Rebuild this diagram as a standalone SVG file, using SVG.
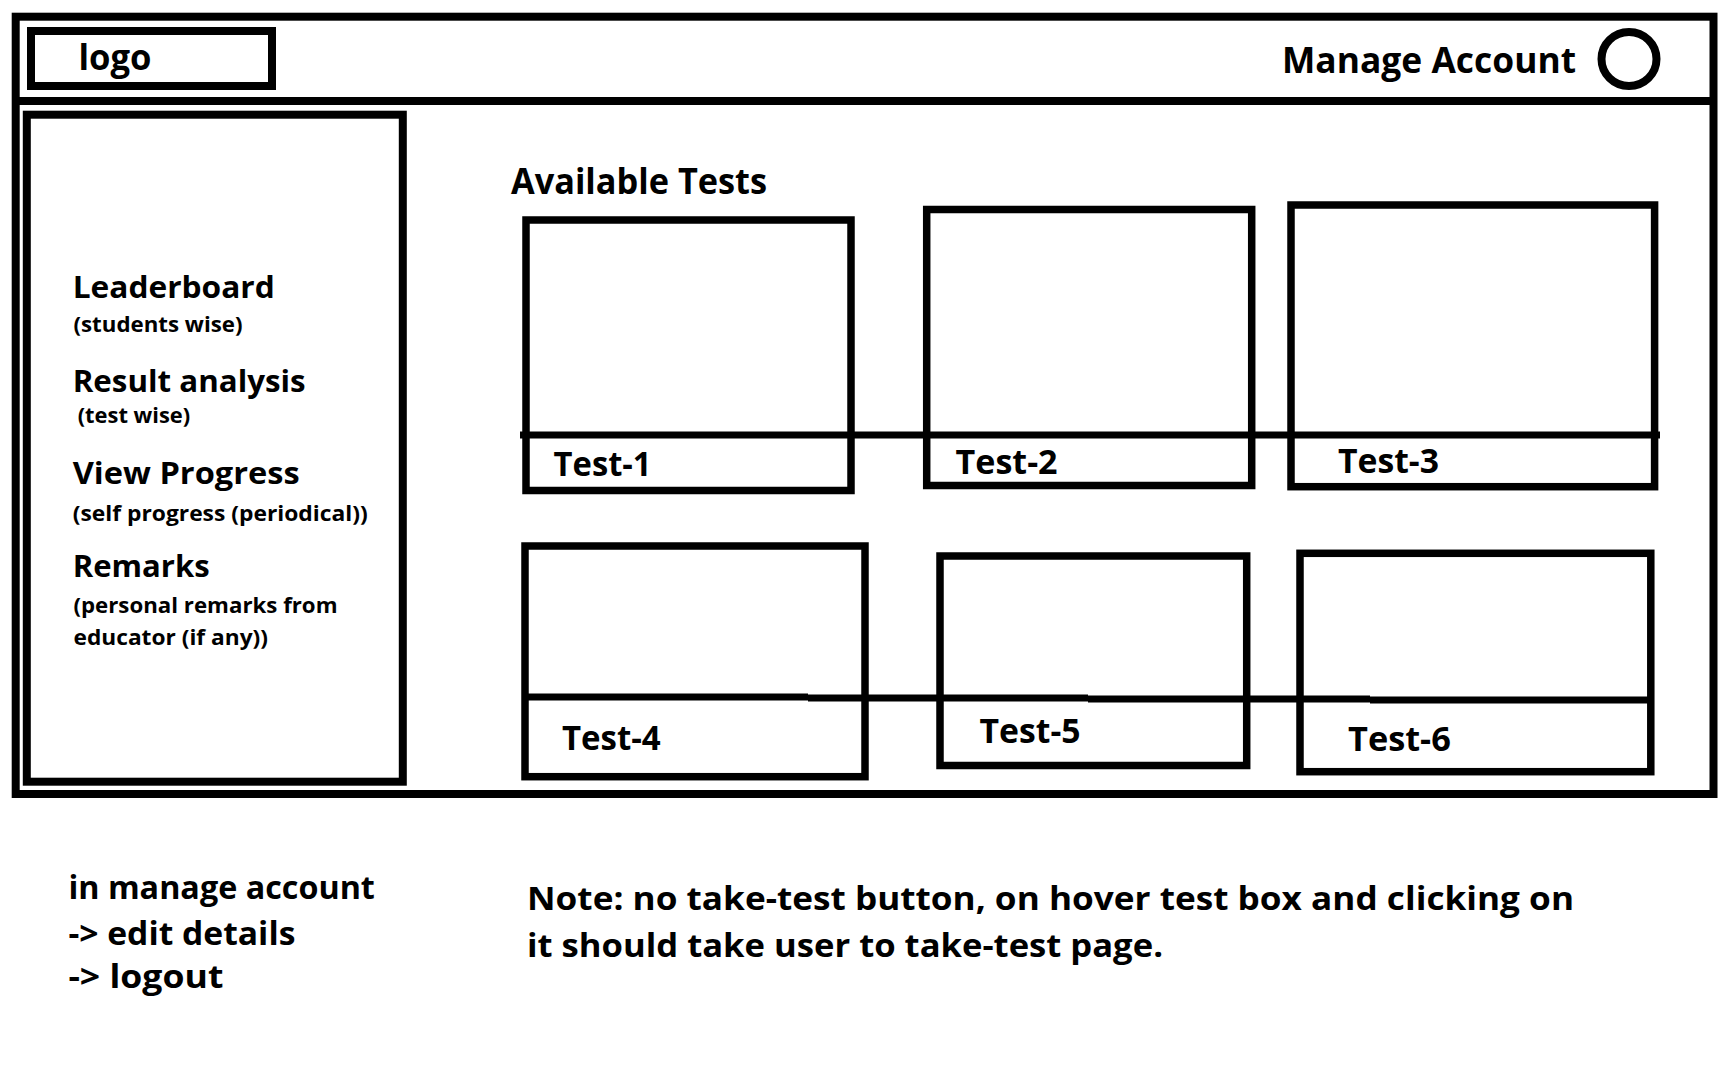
<svg xmlns="http://www.w3.org/2000/svg" width="1728" height="1080" viewBox="0 0 1728 1080">
  <style>
    .frame { fill: none; stroke: #000; stroke-width: 8; }
    .box { fill: none; stroke: #000; stroke-width: 7.5; }
    .rule { stroke: #000; stroke-width: 7; fill: none; }
    text { font-family: "Open Sans", "Noto Sans", "Liberation Sans", sans-serif; font-weight: 700; fill: #000; }
    .h1 { font-size: 36px; }
    .menu { font-size: 31px; }
    .sub { font-size: 21px; }
    .tlabel { font-size: 34px; }
    .note { font-size: 32px; }
  </style>

  <rect x="0" y="0" width="1728" height="1080" fill="#fff"/>

  <!-- page frame and header bar -->
  <g id="page">
    <rect class="frame" x="15.7" y="16.7" width="1697.8" height="777.3"/>
    <line class="frame" x1="15.7" y1="101" x2="1713.5" y2="101"/>
  </g>

  <g id="logo">
    <rect class="frame" x="31" y="31" width="241" height="55"/>
    <text class="h1" x="78.5" y="70" textLength="73" lengthAdjust="spacingAndGlyphs">logo</text>
  </g>

  <g id="manage-account">
    <text class="h1" x="1282" y="72.7" textLength="294" lengthAdjust="spacingAndGlyphs">Manage Account</text>
    <ellipse cx="1629" cy="59" rx="27.5" ry="27" fill="none" stroke="#000" stroke-width="8"/>
  </g>

  <!-- sidebar menu -->
  <g id="sidebar">
    <rect class="frame" x="26.8" y="114.7" width="376" height="667"/>
    <text class="menu" x="72.7" y="298" textLength="202" lengthAdjust="spacingAndGlyphs">Leaderboard</text>
    <text class="sub" x="73.5" y="332" textLength="169" lengthAdjust="spacingAndGlyphs">(students wise)</text>
    <text class="menu" x="72.7" y="391.5" textLength="233" lengthAdjust="spacingAndGlyphs">Result analysis</text>
    <text class="sub" x="77.7" y="423" textLength="112.5" lengthAdjust="spacingAndGlyphs">(test wise)</text>
    <text class="menu" x="72.7" y="484" textLength="227" lengthAdjust="spacingAndGlyphs">View Progress</text>
    <text class="sub" x="72.7" y="521" textLength="295" lengthAdjust="spacingAndGlyphs">(self progress (periodical))</text>
    <text class="menu" x="72.7" y="576.5" textLength="137" lengthAdjust="spacingAndGlyphs">Remarks</text>
    <text class="sub" x="73.5" y="613" textLength="264" lengthAdjust="spacingAndGlyphs">(personal remarks from</text>
    <text class="sub" x="73.5" y="645" textLength="194.5" lengthAdjust="spacingAndGlyphs">educator (if any))</text>
  </g>

  <g id="available-tests">
    <text class="h1" x="511" y="194" textLength="256" lengthAdjust="spacingAndGlyphs">Available Tests</text>
  </g>

  <!-- test cards -->
  <g id="test-1">
    <rect class="box" x="526" y="220" width="325" height="270.5"/>
    <text class="tlabel" x="553.6" y="476" textLength="98" lengthAdjust="spacingAndGlyphs">Test-1</text>
  </g>
  <g id="test-2">
    <rect class="box" x="926.7" y="209.5" width="325" height="276"/>
    <text class="tlabel" x="955.6" y="474.3" textLength="102" lengthAdjust="spacingAndGlyphs">Test-2</text>
  </g>
  <g id="test-3">
    <rect class="box" x="1291" y="205" width="363.6" height="281.7"/>
    <text class="tlabel" x="1338" y="473.3" textLength="101" lengthAdjust="spacingAndGlyphs">Test-3</text>
  </g>
  <g id="test-4">
    <rect class="box" x="525" y="546" width="340" height="230.7"/>
    <text class="tlabel" x="562" y="750" textLength="98.7" lengthAdjust="spacingAndGlyphs">Test-4</text>
  </g>
  <g id="test-5">
    <rect class="box" x="940" y="556" width="306.7" height="209.5"/>
    <text class="tlabel" x="979.6" y="742.7" textLength="101" lengthAdjust="spacingAndGlyphs">Test-5</text>
  </g>
  <g id="test-6">
    <rect class="box" x="1300" y="553.3" width="350.8" height="218.4"/>
    <text class="tlabel" x="1348" y="750.7" textLength="102.8" lengthAdjust="spacingAndGlyphs">Test-6</text>
  </g>

  <!-- label separators running across each card row -->
  <g id="connectors">
    <line class="rule" x1="520" y1="435" x2="1660" y2="435"/>
    <line class="rule" x1="525" y1="697" x2="808" y2="697"/>
    <line class="rule" x1="808" y1="698" x2="1088" y2="698"/>
    <line class="rule" x1="1088" y1="699" x2="1370" y2="699"/>
    <line class="rule" x1="1370" y1="700" x2="1651" y2="700"/>
  </g>

  <g id="account-notes">
    <text class="note" x="68.4" y="899" textLength="306.5" lengthAdjust="spacingAndGlyphs">in manage account</text>
    <text class="note" x="68.4" y="945" textLength="227" lengthAdjust="spacingAndGlyphs">-&gt; edit details</text>
    <text class="note" x="68.4" y="988" textLength="155" lengthAdjust="spacingAndGlyphs">-&gt; logout</text>
  </g>

  <g id="hover-note">
    <text class="note" x="527" y="910" textLength="1047" lengthAdjust="spacingAndGlyphs">Note: no take-test button, on hover test box and clicking on</text>
    <text class="note" x="527" y="957" textLength="636" lengthAdjust="spacingAndGlyphs">it should take user to take-test page.</text>
  </g>
</svg>
